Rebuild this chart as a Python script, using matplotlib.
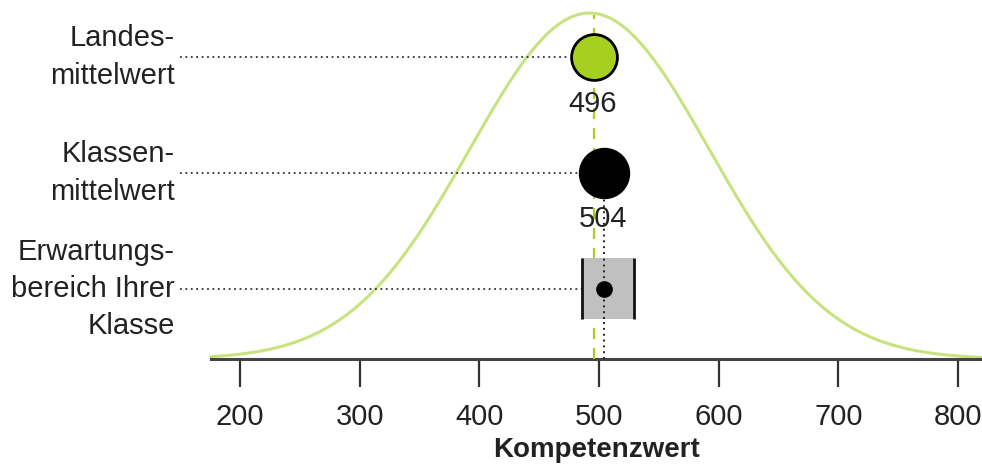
import numpy as np
import matplotlib.pyplot as plt

plt.rcParams["font.family"] = ["Liberation Sans", "DejaVu Sans"]

# values
row_labels = ["Landes-\nmittelwert", "Klassen-\nmittelwert", "Erwartungs-\nbereich Ihrer\nKlasse"]
landes_mean = 496
klassen_mean = 504
range_low, range_high = 486, 529
dist_mean, dist_sd = 492, 100
x_ticks = [200, 300, 400, 500, 600, 700, 800]
x_label = "Kompetenzwert"

GREEN = "#a6cf1f"
CURVE = "#c8e27f"
TEXT = "#222222"

# layout (vertical rows in pixel-like units, axis baseline = 0)
row_y = [302, 186, 70]
peak_h = 346

fig = plt.figure(figsize=(9.82, 4.67), dpi=100)
ax = fig.add_axes([211 / 982, 108 / 467, 771 / 982, 359 / 467])
ax.set_xlim(175.8, 820)
ax.set_ylim(0, 359)

# normal curve
xs = np.linspace(175.8, 820, 400)
ys = peak_h * np.exp(-0.5 * ((xs - dist_mean) / dist_sd) ** 2)
ax.plot(xs, ys, color=CURVE, lw=2.2, zorder=2, clip_on=False)

# vertical reference lines
ax.plot([landes_mean, landes_mean], [0, 344], color=GREEN, lw=1.6,
        dashes=(5, 4), zorder=3)
ax.plot([klassen_mean, klassen_mean], [0, 160], color="#222222", lw=1.4,
        ls=(0, (1, 2)), zorder=3)

# horizontal dotted guides from labels
x_start = 150
ax.plot([x_start, landes_mean - 20], [row_y[0]] * 2, color="#333333", lw=1.3,
        ls=(0, (1, 2)), clip_on=False, zorder=3)
ax.plot([x_start, klassen_mean - 21], [row_y[1]] * 2, color="#333333", lw=1.3,
        ls=(0, (1, 2)), clip_on=False, zorder=3)
ax.plot([x_start, range_low], [row_y[2]] * 2, color="#333333", lw=1.3,
        ls=(0, (1, 2)), clip_on=False, zorder=3)

# expectation range box
ax.fill_between([range_low, range_high], 40, 101, color="#c0c0c0", lw=0, zorder=4)
ax.vlines([range_low, range_high], 40, 101, color="#111111", lw=2.0, zorder=5)
ax.plot([klassen_mean, klassen_mean], [40, 101], color="#222222", lw=1.4,
        ls=(0, (1, 2)), zorder=5)
ax.plot(klassen_mean, row_y[2], "o", color="black", ms=11, zorder=6)

# mean markers
ax.plot(landes_mean, row_y[0], "o", ms=33, mfc=GREEN, mec="black", mew=2, zorder=6)
ax.plot(klassen_mean, row_y[1], "o", ms=36, color="black", zorder=6)
ax.text(landes_mean - 1, 255, str(landes_mean), ha="center", va="center",
        fontsize=21, color=TEXT, zorder=7)
ax.text(klassen_mean - 1, 140, str(klassen_mean), ha="center", va="center",
        fontsize=21, color=TEXT, zorder=7)

# row labels on the left
for lab, yy in zip(row_labels, row_y):
    ax.text(-0.047, yy, lab, transform=ax.get_yaxis_transform(), ha="right",
            va="center", fontsize=21, color=TEXT, linespacing=1.42)

# axes styling
for side in ["top", "right", "left"]:
    ax.spines[side].set_visible(False)
ax.spines["bottom"].set_color("#444444")
ax.spines["bottom"].set_linewidth(2.2)
ax.set_yticks([])
ax.set_xticks(x_ticks)
ax.tick_params(axis="x", direction="out", length=20, width=1.6, color="#333333",
               labelsize=21, labelcolor=TEXT, pad=12)
ax.set_xlabel(x_label, fontsize=20, fontweight="bold", color=TEXT, labelpad=4)

fig.savefig("out.png", dpi=100)
